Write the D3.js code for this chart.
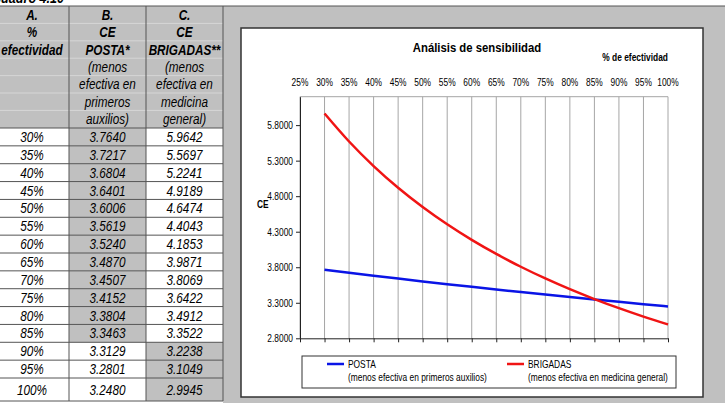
<!DOCTYPE html>
<html lang="es">
<head>
<meta charset="UTF-8">
<title>Cuadro 4.10</title>
<script src="https://cdn.jsdelivr.net/npm/d3@7"></script>
<style>
    body{ margin:0; background:#fff; }
    text{ font-family:"Liberation Sans",Arial,sans-serif; }
    .celda{ font-size:14px; font-style:italic; fill:#000; }
    .cab{ font-weight:bold; }
    .ejes{ font-size:10px; fill:#000; }
    .titulo{ font-size:13.5px; font-weight:bold; }
</style>
</head>
<body>
<div id="grafico"></div>
<script>

// datos del cuadro 4.10
var efectividad = [30, 35, 40, 45, 50, 55, 60, 65, 70, 75, 80, 85, 90, 95, 100];
var posta = [3.7640, 3.7217, 3.6804, 3.6401, 3.6006, 3.5619, 3.5240, 3.4870, 3.4507, 3.4152, 3.3804, 3.3463, 3.3129, 3.2801, 3.2480];
var brigadas = [5.9642, 5.5697, 5.2241, 4.9189, 4.6474, 4.4043, 4.1853, 3.9871, 3.8069, 3.6422, 3.4912, 3.3522, 3.2238, 3.1049, 2.9945];
var xTicks = [25, 30, 35, 40, 45, 50, 55, 60, 65, 70, 75, 80, 85, 90, 95, 100];
var yTicks = [2.8, 3.3, 3.8, 4.3, 4.8, 5.3, 5.8];
var cabA = ["A.", "%", "efectividad"];
var cabB = ["B.", "CE", "POSTA*", "(menos", "efectiva en", "primeros", "auxilios)"];
var cabC = ["C.", "CE", "BRIGADAS**", "(menos", "efectiva en", "medicina", "general)"];

var w = 725, h = 403;
var gris = "#c0c0c0";
var estrecho = 0.84;   // la captura original esta comprimida en horizontal

var svg = d3.select("#grafico").append("svg")
    .attr("width", w)
    .attr("height", h);

// ---------- tabla ----------
var colX = [-5, 69, 146, 223];
var cabTop = 6, cabBottom = 128;

// fondo gris de la derecha (hoja)
svg.append("rect")
    .attr("x", 223).attr("y", cabTop)
    .attr("width", w - 223).attr("height", h - cabTop)
    .attr("fill", gris);

svg.append("rect")
    .attr("x", colX[0]).attr("y", cabTop)
    .attr("width", colX[3] - colX[0]).attr("height", cabBottom - cabTop)
    .attr("fill", gris);

// lineas tenues de la cabecera
for (var k = 1; k < 7; k++) {
    svg.append("line")
        .attr("x1", 0).attr("x2", 223)
        .attr("y1", cabTop + k * 17.4).attr("y2", cabTop + k * 17.4)
        .attr("stroke", "#d6d6d6").attr("stroke-width", 1);
}

svg.append("text")
    .attr("class", "celda cab")
    .attr("x", -8).attr("y", 3)
    .style("font-size", "15px")
    .text("Cuadro 4.10");

[cabA, cabB, cabC].forEach(function(lineas, c) {
    var cx = (colX[c] + colX[c + 1]) / 2;
    svg.selectAll(".cab" + c)
        .data(lineas)
        .enter()
        .append("text")
        .attr("class", function(d, i){ return i < 3 ? "celda cab" : "celda"; })
        .attr("x", cx)
        .attr("y", function(d, i){ return 20 + i * 17.3; })
        .attr("text-anchor", "middle")
        .text(function(d){ return d; });
});

var filaY = d3.scaleBand()
    .domain(efectividad.slice(0, 14))
    .range([cabBottom, 378]);
function topFila(i){ return i < 14 ? filaY(efectividad[i]) : 378; }
function altoFila(i){ return i < 14 ? filaY.bandwidth() : 401 - 378; }

var filas = svg.selectAll(".fila")
    .data(efectividad)
    .enter()
    .append("g")
    .attr("class", "fila");

// celda gris para el menor CE
filas.append("rect")
    .attr("x", function(d, i){ return posta[i] < brigadas[i] ? colX[1] : colX[2]; })
    .attr("y", function(d, i){ return topFila(i); })
    .attr("width", 77)
    .attr("height", function(d, i){ return altoFila(i); })
    .attr("fill", gris);

filas.append("text")
    .attr("class", "celda")
    .attr("x", 32)
    .attr("y", function(d, i){ return topFila(i) + altoFila(i) / 2 + 5; })
    .attr("text-anchor", "middle")
    .text(function(d){ return d + "%"; });

filas.append("text")
    .attr("class", "celda")
    .attr("x", 107.5)
    .attr("y", function(d, i){ return topFila(i) + altoFila(i) / 2 + 5; })
    .attr("text-anchor", "middle")
    .text(function(d, i){ return posta[i].toFixed(4); });

filas.append("text")
    .attr("class", "celda")
    .attr("x", 184.5)
    .attr("y", function(d, i){ return topFila(i) + altoFila(i) / 2 + 5; })
    .attr("text-anchor", "middle")
    .text(function(d, i){ return brigadas[i].toFixed(4); });

// bordes de las filas
filas.append("line")
    .attr("x1", 0).attr("x2", 223)
    .attr("y1", function(d, i){ return topFila(i); })
    .attr("y2", function(d, i){ return topFila(i); })
    .attr("stroke", "#555").attr("stroke-width", 1);

svg.append("line")
    .attr("x1", 0).attr("x2", w)
    .attr("y1", cabTop).attr("y2", cabTop)
    .attr("stroke", "#555");
svg.append("line")
    .attr("x1", 0).attr("x2", 223)
    .attr("y1", 401).attr("y2", 401)
    .attr("stroke", "#555");

colX.slice(1).forEach(function(x){
    svg.append("line")
        .attr("x1", x).attr("x2", x)
        .attr("y1", cabTop).attr("y2", 401)
        .attr("stroke", "#555");
});

// ---------- grafico ----------
svg.append("rect")
    .attr("x", 241).attr("y", 28)
    .attr("width", 703 - 241).attr("height", 397 - 28)
    .attr("fill", "#fff")
    .attr("stroke", "#333")
    .attr("stroke-width", 1.5);

var xScale = d3.scaleLinear().domain([25, 100]).range([300, 668]);
var yScale = d3.scaleLinear().domain([2.8, 6.2]).range([338.3, 96.7]);

// rejilla vertical
svg.selectAll(".rejilla")
    .data(xTicks)
    .enter()
    .append("line")
    .attr("class", "rejilla")
    .attr("x1", function(d){ return xScale(d); })
    .attr("x2", function(d){ return xScale(d); })
    .attr("y1", yScale(6.2))
    .attr("y2", yScale(2.8))
    .attr("stroke", "#a6a6a6");

svg.append("line")
    .attr("x1", xScale(25)).attr("x2", xScale(100))
    .attr("y1", yScale(6.2)).attr("y2", yScale(6.2))
    .attr("stroke", "#a6a6a6");

// eje x abajo (solo marcas) y etiquetas arriba
svg.append("g")
    .attr("transform", "translate(0," + yScale(2.8) + ")")
    .call(d3.axisBottom(xScale).tickValues(xTicks).tickSize(4).tickFormat("").tickSizeOuter(0))
    .call(function(g){ g.select(".domain").attr("stroke", "#222"); g.selectAll("line").attr("stroke", "#222"); });

svg.selectAll(".xlab")
    .data(xTicks)
    .enter()
    .append("text")
    .attr("class", "ejes")
    .attr("x", function(d){ return xScale(d); })
    .attr("y", 86)
    .attr("text-anchor", "middle")
    .text(function(d){ return d + "%"; });

// eje y
svg.append("g")
    .attr("transform", "translate(" + xScale(25) + ",0)")
    .call(d3.axisLeft(yScale).tickValues(yTicks).tickSize(4).tickPadding(3).tickSizeOuter(0)
        .tickFormat(d3.format(".4f")))
    .call(function(g){
        g.select(".domain").attr("stroke", "#222");
        g.selectAll("line").attr("stroke", "#222");
        g.selectAll("text").attr("class", "ejes").attr("font-family", null).attr("font-size", null)
            .attr("y", 0).attr("dy", "0.34em");
    });

// series
var linea = d3.line()
    .x(function(d, i){ return xScale(efectividad[i]); })
    .y(function(d){ return yScale(d); })
    .curve(d3.curveMonotoneX);

svg.append("path")
    .datum(posta)
    .attr("d", linea)
    .attr("fill", "none")
    .attr("stroke", "#0a14e6")
    .attr("stroke-width", 2.5);

svg.append("path")
    .datum(brigadas)
    .attr("d", linea)
    .attr("fill", "none")
    .attr("stroke", "#f01414")
    .attr("stroke-width", 2.5);

// textos
svg.append("text")
    .attr("class", "titulo")
    .attr("x", 477).attr("y", 52)
    .attr("text-anchor", "middle")
    .text("Análisis de sensibilidad");

svg.append("text")
    .attr("class", "ejes")
    .attr("x", 668).attr("y", 61)
    .attr("text-anchor", "end")
    .style("font-weight", "bold")
    .text("% de efectividad");

svg.append("text")
    .attr("class", "ejes")
    .attr("x", 257).attr("y", 208)
    .style("font-weight", "bold")
    .text("CE");

// leyenda
svg.append("rect")
    .attr("x", 302).attr("y", 356)
    .attr("width", 676 - 302).attr("height", 32)
    .attr("fill", "#fff")
    .attr("stroke", "#333");

var leyenda = [
    { x: 327, color: "#0a14e6", t1: "POSTA", t2: "(menos efectiva en primeros auxilios)" },
    { x: 507, color: "#f01414", t1: "BRIGADAS", t2: "(menos efectiva en medicina general)" }
];

var ley = svg.selectAll(".ley")
    .data(leyenda)
    .enter()
    .append("g")
    .attr("class", "ley");

ley.append("line")
    .attr("x1", function(d){ return d.x; })
    .attr("x2", function(d){ return d.x + 17; })
    .attr("y1", 364).attr("y2", 364)
    .attr("stroke", function(d){ return d.color; })
    .attr("stroke-width", 2.5);

ley.append("text")
    .attr("class", "ejes")
    .attr("x", function(d){ return d.x + 21; })
    .attr("y", 368)
    .text(function(d){ return d.t1; });

ley.append("text")
    .attr("class", "ejes")
    .attr("x", function(d){ return d.x + 21; })
    .attr("y", 381)
    .text(function(d){ return d.t2; });

// comprimir todos los textos en horizontal, como en la imagen original
svg.selectAll("text").each(function(){
    var t = d3.select(this);
    var x = +t.attr("x") || 0, y = +t.attr("y") || 0;
    t.attr("x", 0).attr("y", 0)
     .attr("transform", "translate(" + x + "," + y + ") scale(" + estrecho + ",1)");
});

</script>
</body>
</html>
